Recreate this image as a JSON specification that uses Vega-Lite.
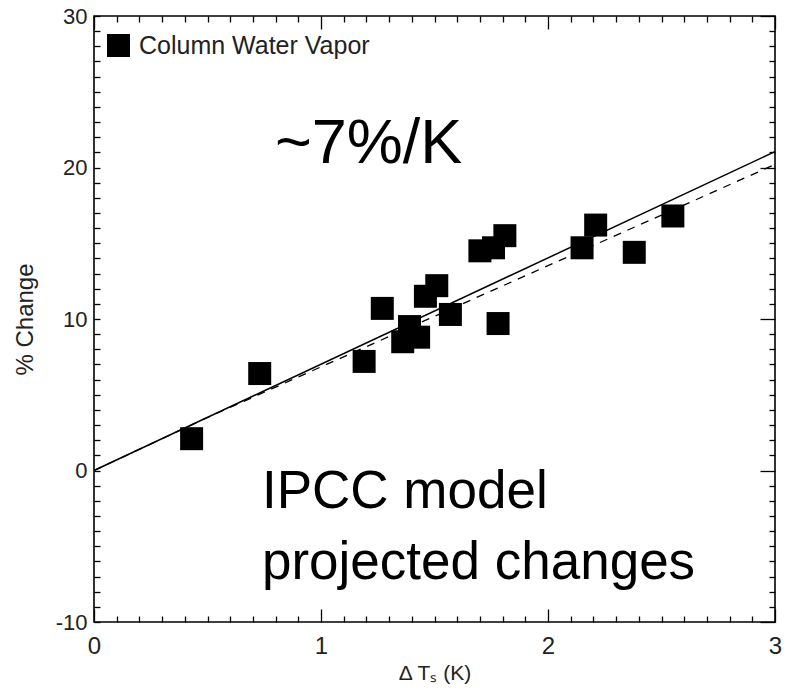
{
  "$schema": "https://vega.github.io/schema/vega-lite/v6.json",
  "width": 681,
  "height": 606,
  "autosize": {"type": "none"},
  "padding": {"left": 94, "top": 16, "right": 12, "bottom": 71},
  "background": "white",
  "config": {
    "view": {"stroke": "black", "strokeWidth": 1.6},
    "font": "Liberation Sans",
    "axis": {
      "domain": false,
      "grid": false,
      "tickColor": "black",
      "tickWidth": 1.3,
      "labelColor": "#222",
      "titleColor": "#222",
      "labelFont": "Liberation Sans",
      "titleFont": "Liberation Sans",
      "titleFontWeight": "normal",
      "labelFlush": false,
      "labelOverlap": false
    }
  },
  "resolve": {"axis": {"x": "independent", "y": "independent"}},
  "layer": [
    {
      "data": {
        "values": [
          {"dT": 0.43, "pct": 2.1, "series": "Column Water Vapor"},
          {"dT": 0.73, "pct": 6.4, "series": "Column Water Vapor"},
          {"dT": 1.19, "pct": 7.2, "series": "Column Water Vapor"},
          {"dT": 1.27, "pct": 10.7, "series": "Column Water Vapor"},
          {"dT": 1.36, "pct": 8.5, "series": "Column Water Vapor"},
          {"dT": 1.39, "pct": 9.5, "series": "Column Water Vapor"},
          {"dT": 1.43, "pct": 8.8, "series": "Column Water Vapor"},
          {"dT": 1.46, "pct": 11.5, "series": "Column Water Vapor"},
          {"dT": 1.51, "pct": 12.2, "series": "Column Water Vapor"},
          {"dT": 1.57, "pct": 10.3, "series": "Column Water Vapor"},
          {"dT": 1.70, "pct": 14.5, "series": "Column Water Vapor"},
          {"dT": 1.76, "pct": 14.7, "series": "Column Water Vapor"},
          {"dT": 1.78, "pct": 9.7, "series": "Column Water Vapor"},
          {"dT": 1.81, "pct": 15.5, "series": "Column Water Vapor"},
          {"dT": 2.15, "pct": 14.7, "series": "Column Water Vapor"},
          {"dT": 2.21, "pct": 16.2, "series": "Column Water Vapor"},
          {"dT": 2.38, "pct": 14.4, "series": "Column Water Vapor"},
          {"dT": 2.55, "pct": 16.8, "series": "Column Water Vapor"}
        ]
      },
      "mark": {"type": "point", "shape": "square", "filled": true, "size": 529, "opacity": 1},
      "encoding": {
        "x": {
          "field": "dT", "type": "quantitative",
          "scale": {"domain": [0, 3], "nice": false, "zero": false},
          "axis": {"orient": "bottom", "values": [0, 1, 2, 3], "tickSize": -13, "labelFontSize": 24, "labelPadding": 25, "labelExpr": "'' + datum.value", "title": "Δ Tₛ (K)", "titleFontSize": 21, "titlePadding": 4}
        },
        "y": {
          "field": "pct", "type": "quantitative",
          "scale": {"domain": [-10, 30], "nice": false, "zero": false},
          "axis": {"orient": "left", "values": [-10, 0, 10, 20, 30], "tickSize": -6, "labelFontSize": 22, "labelPadding": 13, "labelExpr": "'' + datum.value", "title": "% Change", "titleFontSize": 24, "titlePadding": 18}
        },
        "color": {
          "field": "series", "type": "nominal",
          "scale": {"range": ["black"]},
          "legend": {"orient": "none", "legendX": 12, "legendY": 17, "title": null, "labelFontSize": 25, "labelLimit": 400, "labelColor": "#222", "labelFont": "Liberation Sans", "symbolSize": 529, "symbolType": "square", "symbolStrokeWidth": 0, "labelOffset": 8, "padding": 0}
        }
      }
    },
    {
      "data": {"values": [{"dT": 0, "pct": 0}, {"dT": 3, "pct": 21.05}]},
      "mark": {"type": "line", "color": "black", "strokeWidth": 1.5},
      "encoding": {
        "x": {"field": "dT", "type": "quantitative", "axis": {"orient": "bottom", "values": [0.1,0.2,0.3,0.4,0.5,0.6,0.7,0.8,0.9,1.1,1.2,1.3,1.4,1.5,1.6,1.7,1.8,1.9,2.1,2.2,2.3,2.4,2.5,2.6,2.7,2.8,2.9], "tickSize": -6, "labels": false, "title": null}},
        "y": {"field": "pct", "type": "quantitative", "axis": {"orient": "left", "values": [-9,-8,-7,-6,-5,-4,-3,-2,-1,1,2,3,4,5,6,7,8,9,11,12,13,14,15,16,17,18,19,21,22,23,24,25,26,27,28,29], "tickSize": -6, "labels": false, "title": null}}
      }
    },
    {
      "data": {"values": [{"dT": 0, "pct": 0}, {"dT": 0.5, "pct": 3.5}, {"dT": 3, "pct": 20.2}]},
      "mark": {"type": "line", "color": "black", "strokeWidth": 1.3, "strokeDash": [8, 7]},
      "encoding": {
        "x": {"field": "dT", "type": "quantitative", "axis": {"orient": "top", "values": [0, 1, 2, 3], "tickSize": -13, "labels": false, "title": null}},
        "y": {"field": "pct", "type": "quantitative", "axis": {"orient": "right", "values": [-10, 0, 10, 20, 30], "tickSize": -15, "labels": false, "title": null}}
      }
    },
    {
      "data": {"values": [{"dT": 0.797, "pct": 20.3, "note": "~7%/K"}]},
      "mark": {"type": "text", "align": "left", "baseline": "alphabetic", "fontSize": 63, "font": "Liberation Sans", "color": "black"},
      "encoding": {
        "x": {"field": "dT", "type": "quantitative", "axis": {"orient": "top", "values": [0.1,0.2,0.3,0.4,0.5,0.6,0.7,0.8,0.9,1.1,1.2,1.3,1.4,1.5,1.6,1.7,1.8,1.9,2.1,2.2,2.3,2.4,2.5,2.6,2.7,2.8,2.9], "tickSize": -6, "labels": false, "title": null}},
        "y": {"field": "pct", "type": "quantitative", "axis": {"orient": "right", "values": [-9,-8,-7,-6,-5,-4,-3,-2,-1,1,2,3,4,5,6,7,8,9,11,12,13,14,15,16,17,18,19,21,22,23,24,25,26,27,28,29], "tickSize": -6, "labels": false, "title": null}},
        "text": {"field": "note"}
      }
    },
    {
      "data": {"values": [
        {"dT": 0.74, "pct": -2.45, "note": "IPCC model"},
        {"dT": 0.74, "pct": -7.15, "note": "projected changes"}
      ]},
      "mark": {"type": "text", "align": "left", "baseline": "alphabetic", "fontSize": 53, "font": "Liberation Sans", "color": "black"},
      "encoding": {
        "x": {"field": "dT", "type": "quantitative", "axis": null},
        "y": {"field": "pct", "type": "quantitative", "axis": null},
        "text": {"field": "note"}
      }
    }
  ]
}
